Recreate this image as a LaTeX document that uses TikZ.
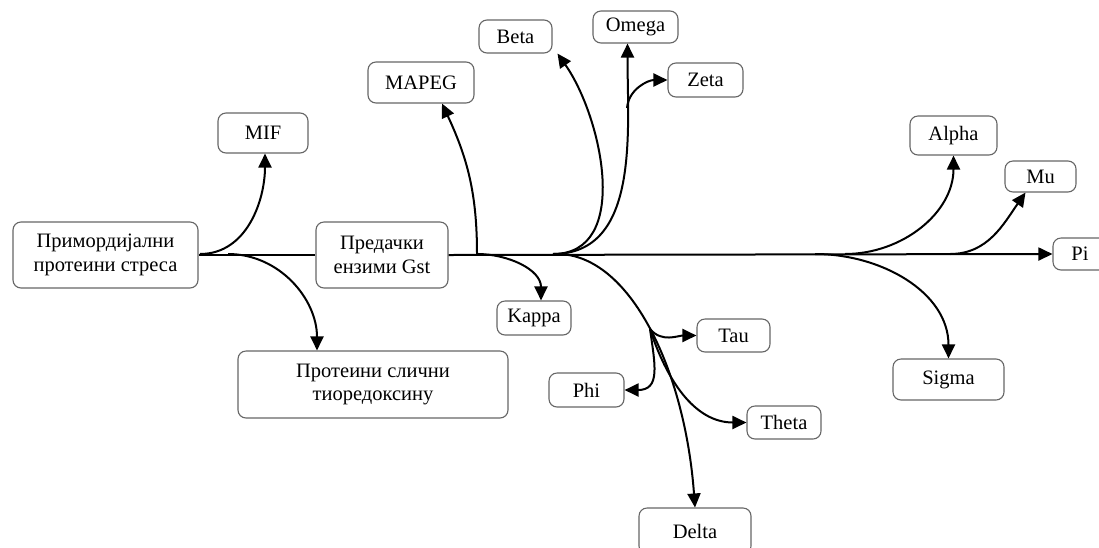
\documentclass[tikz,border=0pt]{standalone}
\usepackage{fontspec}
\setmainfont{Liberation Serif}
\usetikzlibrary{arrows.meta}
\begin{document}
\begin{tikzpicture}[x=1pt,y=-1pt,
  box/.style={draw=black!60, line width=1.1pt, rounded corners=8pt, fill=white,
    inner sep=0pt, align=center, font=\fontsize{20.5}{23.5}\selectfont},
  conn/.style={line width=2pt, black},
  arr/.style={conn, -{Triangle[length=14pt,width=13pt]}}]
\clip (0,0) rectangle (1099,547);
\fill[white] (0,0) rectangle (1099,547);
% nodes
\node[box, minimum width=185pt, minimum height=66pt] (prim) at (105.5,255) {Примордијални\\протеини стреса};
\node[box, minimum width=132pt, minimum height=66pt] (pred) at (382,255) {Предачки\\ензими Gst};
\node[box, minimum width=90pt, minimum height=40pt] (mif) at (263,133) {MIF};
\node[box, minimum width=270pt, minimum height=67pt] (prot) at (373,384.5) {Протеини слични\\тиоредоксину};
\node[box, minimum width=106pt, minimum height=41pt] (mapeg) at (421,82.5) {MAPEG};
\node[box, minimum width=73pt, minimum height=33pt] (beta) at (515.5,36.5) {Beta};
\node[box, minimum width=85pt, minimum height=32pt] (omega) at (635.5,27) {Omega};
\node[box, minimum width=75pt, minimum height=34pt] (zeta) at (705.5,80) {Zeta};
\node[box, minimum width=74pt, minimum height=34pt] (kappa) at (534,318) {Kappa};
\node[box, minimum width=73pt, minimum height=33pt] (tau) at (733.5,335.5) {Tau};
\node[box, minimum width=75pt, minimum height=34pt] (phi) at (586.5,390) {Phi};
\node[box, minimum width=74pt, minimum height=33pt] (theta) at (784,422.5) {Theta};
\node[box, minimum width=112pt, minimum height=46pt] (delta) at (695,531) {Delta};
\node[box, minimum width=87pt, minimum height=39pt] (alpha) at (953.5,135.5) {Alpha};
\node[box, minimum width=71pt, minimum height=31pt] (mu) at (1040.5,176.5) {Mu};
\node[box, minimum width=70pt, minimum height=32pt] (pi) at (1088,254) {Pi\hspace*{16pt}};
\node[box, minimum width=111pt, minimum height=41pt] (sigma) at (948.5,379.5) {Sigma};
% branch points
\coordinate (sMIF) at (200,254);
\coordinate (sProt) at (228,254);
\coordinate (sMapeg) at (477,254);
\coordinate (sBeta) at (553,254);
\coordinate (sDelta) at (557,254);
\coordinate (J) at (650,329);
\coordinate (zj) at (627,108);
\coordinate (sSigma) at (815,254);
\coordinate (sAlpha) at (845,254);
\coordinate (sMu) at (950,254);
% main line
\draw[conn] (prim.east) -- (pred.west);
\draw[arr] (pred.east) -- (pi.west);
% branches
\draw[arr] (sMIF) to[out=0,in=-90] ([xshift=2pt]mif.south);
\draw[arr] (sProt) to[out=0,in=90] ([xshift=-56pt]prot.north);
\draw[arr] (sMapeg) to[out=90,in=-65] ([xshift=21pt]mapeg.south);
\draw[arr] (sMapeg) to[out=0,in=90] ([xshift=7pt]kappa.north);
\draw[arr] (sBeta) to[out=0,in=-55] ([xshift=42pt]beta.south);
\draw[arr] (sBeta) to[out=0,in=-90] ([xshift=-8pt]omega.south);
\draw[arr] (zj) to[out=85,in=180] (zeta.west);
\draw[arr] (sDelta) .. controls (630,254) and (685,370) .. (delta.north);
\draw[arr] (J) to[out=-50,in=180] (tau.west);
\draw[arr] (J) to[out=-82,in=0,looseness=1.4] (phi.east);
\draw[arr] (J) to[out=-72,in=180] (theta.west);
\draw[arr] (sAlpha) to[out=0,in=-90] (alpha.south);
\draw[arr] (sMu) to[out=0,in=-125] ([xshift=-15pt]mu.south);
\draw[arr] (sSigma) to[out=0,in=90] (sigma.north);
\end{tikzpicture}
\end{document}
